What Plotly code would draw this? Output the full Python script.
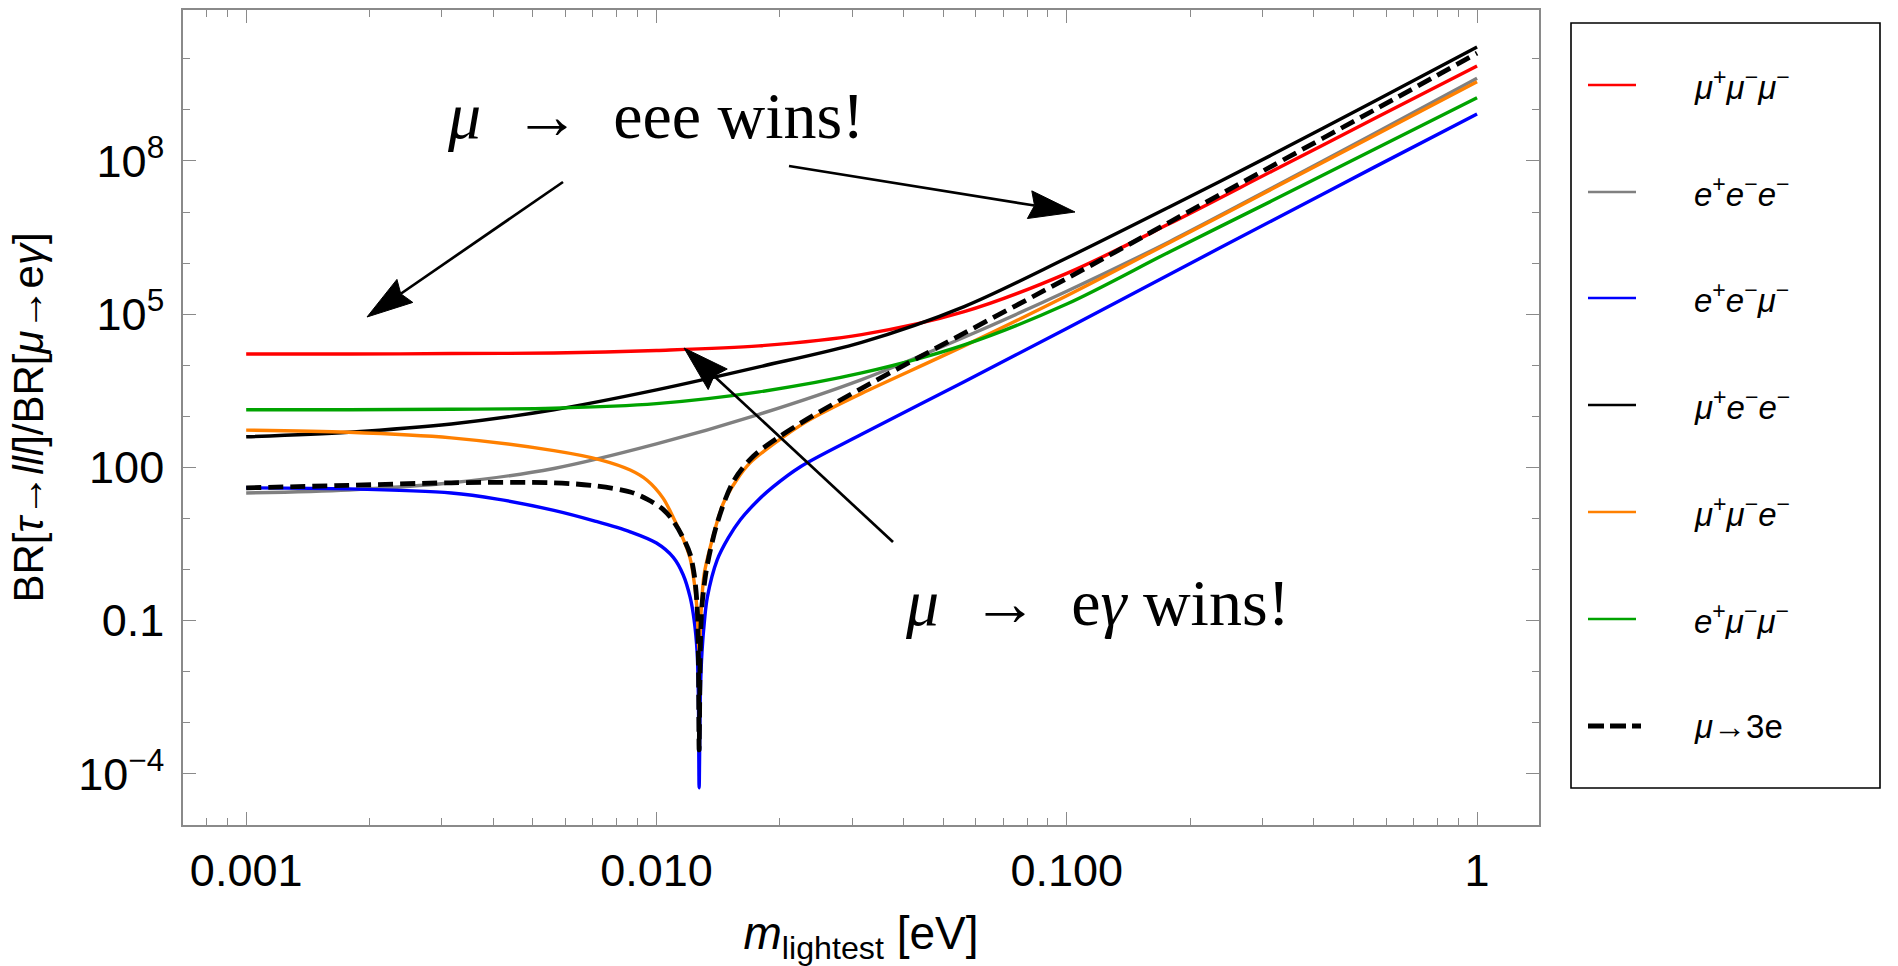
import numpy as np
import plotly.graph_objects as go

# ---------------- data ----------------
# x: log10(m_lightest / eV), y: log10(BR[tau->lll]/BR[mu->e gamma])
logm_grid = [-3.0, -2.75, -2.5, -2.25, -2.0, -1.75, -1.5, -1.25, -1.0, -0.75, -0.5, -0.25, 0.0]

logbr_mupmummum = [4.22, 4.22, 4.23, 4.24, 4.29, 4.38, 4.60, 5.05, 5.80, 6.77, 7.80, 8.83, 9.86]   # mu+ mu- mu-  (red)
logbr_epemem    = [1.50, 1.56, 1.70, 1.98, 2.46, 3.04, 3.72, 4.55, 5.45, 6.42, 7.47, 8.54, 9.62]   # e+ e- e-     (gray)
logbr_mupemem   = [2.60, 2.69, 2.85, 3.13, 3.52, 3.97, 4.45, 5.15, 6.10, 7.10, 8.12, 9.17, 10.23]  # mu+ e- e-    (black)
logbr_epmummum  = [3.13, 3.13, 3.14, 3.16, 3.25, 3.48, 3.85, 4.40, 5.20, 6.22, 7.22, 8.23, 9.24]   # e+ mu- mu-   (green)

# e+ e- mu-  (blue)
logm_epemmum = [-3.0, -2.75, -2.5, -2.388, -2.25, -2.15, -2.064, -2.0, -1.959, -1.935, -1.918, -1.908,
                -1.901, -1.898, -1.896, -1.893, -1.889, -1.883, -1.876, -1.852, -1.825, -1.796, -1.756,
                -1.716, -1.65, -1.5, -1.25, -1.0, -0.75, -0.5, -0.25, 0.0]
logbr_epemmum = [1.60, 1.58, 1.50, 1.38, 1.16, 0.95, 0.74, 0.52, 0.24, -0.10, -0.54, -1.00,
                 -1.60, -2.40, -4.27, -2.40, -1.60, -1.00, -0.54, 0.19, 0.62, 0.97, 1.33,
                 1.62, 2.01, 2.65, 3.68, 4.72, 5.78, 6.83, 7.88, 8.92]

# mu+ mu- e-  (orange)
logm_mupmumem = [-3.0, -2.75, -2.5, -2.25, -2.137, -2.064, -2.023, -1.984, -1.959, -1.935, -1.918, -1.908,
                 -1.901, -1.896, -1.891, -1.884, -1.869, -1.837, -1.805, -1.772, -1.699, -1.65, -1.6, -1.5,
                 -1.25, -1.0, -0.75, -0.5, -0.25, 0.0]
logbr_mupmumem = [2.73, 2.69, 2.58, 2.33, 2.15, 1.95, 1.75, 1.40, 1.02, 0.60, 0.22, -0.25,
                  -0.80, -1.60, -0.80, -0.10, 0.44, 1.30, 1.75, 2.09, 2.55, 2.82, 3.05, 3.45,
                  4.38, 5.36, 6.40, 7.45, 8.50, 9.55]

# mu -> 3e  (black dashed)
logm_mu3e = [-3.0, -2.75, -2.5, -2.25, -2.15, -2.064, -2.023, -1.984, -1.959, -1.935, -1.918, -1.908,
             -1.901, -1.898, -1.896, -1.893, -1.889, -1.882, -1.876, -1.852, -1.813, -1.764, -1.699,
             -1.65, -1.6, -1.5, -1.25, -1.0, -0.75, -0.5, -0.25, 0.0]
logbr_mu3e = [1.60, 1.65, 1.70, 1.70, 1.64, 1.52, 1.38, 1.18, 0.95, 0.62, 0.30, -0.10,
              -0.70, -1.60, -3.53, -1.50, -0.70, -0.20, 0.10, 0.91, 1.72, 2.22, 2.61,
              2.86, 3.10, 3.55, 4.63, 5.70, 6.80, 7.90, 9.00, 10.11]

legend_labels = [
    "<i>μ</i><sup>+</sup><i>μ</i><sup>−</sup><i>μ</i><sup>−</sup>",
    "<i>e</i><sup>+</sup><i>e</i><sup>−</sup><i>e</i><sup>−</sup>",
    "<i>e</i><sup>+</sup><i>e</i><sup>−</sup><i>μ</i><sup>−</sup>",
    "<i>μ</i><sup>+</sup><i>e</i><sup>−</sup><i>e</i><sup>−</sup>",
    "<i>μ</i><sup>+</sup><i>μ</i><sup>−</sup><i>e</i><sup>−</sup>",
    "<i>e</i><sup>+</sup><i>μ</i><sup>−</sup><i>μ</i><sup>−</sup>",
    "<i>μ</i>→3e",
]

x_tickvals = [0.001, 0.01, 0.1, 1]
x_ticktext = ["0.001", "0.010", "0.100", "1"]
x_minor = [0.0008, 0.0009] + [k * 10.0 ** e for e in (-3, -2, -1) for k in range(2, 10)]
y_tickvals = [1e-4, 0.1, 100, 1e5, 1e8]
y_ticktext = ["10<sup>−4</sup>", "0.1", "100", "10<sup>5</sup>", "10<sup>8</sup>"]
y_minor = [1e-3, 1e-2, 1, 10, 1e3, 1e4, 1e6, 1e7, 1e9, 1e10]

# ---------------- styling ----------------
RED, GRAY, BLUE, BLACK, ORANGE, GREEN = "#FF0000", "#808080", "#0000FF", "#000000", "#FF8000", "#00A300"
FRAME = "#8a8a8a"
SANS = "Liberation Sans, Arial, Helvetica, sans-serif"
SERIF = "Liberation Serif, Times New Roman, serif"

L, R, T, B = 183, 1539, 10, 825      # plot frame in page pixels
W, H = R - L, B - T


def px(x):
    return (x - L) / W


def py(y):
    return (B - y) / H


fig = go.Figure()

series = [
    (legend_labels[0], logm_grid, logbr_mupmummum, RED, "solid", 3.4),
    (legend_labels[1], logm_grid, logbr_epemem, GRAY, "solid", 3.4),
    (legend_labels[2], logm_epemmum, logbr_epemmum, BLUE, "solid", 3.4),
    (legend_labels[3], logm_grid, logbr_mupemem, BLACK, "solid", 3.4),
    (legend_labels[4], logm_mupmumem, logbr_mupmumem, ORANGE, "solid", 3.4),
    (legend_labels[5], logm_grid, logbr_epmummum, GREEN, "solid", 3.4),
    (legend_labels[6], logm_mu3e, logbr_mu3e, BLACK, "15px,7px", 4.8),
]
for name, lx, ly, col, dash, w in series:
    fig.add_trace(go.Scatter(
        x=10.0 ** np.array(lx), y=10.0 ** np.array(ly), mode="lines", name=name,
        line=dict(color=col, width=w, dash=dash, shape="spline", smoothing=0.9),
        showlegend=False,
    ))

axis_common = dict(
    type="log", showgrid=False, zeroline=False, showline=True, linecolor=FRAME, linewidth=1.6,
    mirror="ticks", ticks="inside", ticklen=13, tickwidth=1.3, tickcolor=FRAME,
    tickfont=dict(family=SANS, size=45, color="black"),
)
fig.update_xaxes(
    **axis_common, range=[-3.154, 0.151], tickmode="array", tickvals=x_tickvals, ticktext=x_ticktext,
    minor=dict(tickvals=x_minor, ticks="inside", ticklen=7, tickwidth=1.3, tickcolor=FRAME),
    ticklabelstandoff=5,
    title=dict(text="<i>m</i><sub>lightest</sub> [eV]", font=dict(family=SANS, size=46, color="black"), standoff=22),
)
fig.update_yaxes(
    **axis_common, range=[-5.0, 10.956], tickmode="array", tickvals=y_tickvals, ticktext=y_ticktext,
    minor=dict(tickvals=y_minor, ticks="inside", ticklen=7, tickwidth=1.3, tickcolor=FRAME),
    ticklabelstandoff=8,
    title=dict(text="BR[<i>τ</i>→<i>lll</i>]/BR[<i>μ</i>→e<i>γ</i>]", font=dict(family=SANS, size=42, color="black"), standoff=22),
)

shapes = []
annotations = []

# legend (drawn in the right margin)
shapes.append(dict(type="rect", xref="paper", yref="paper", x0=px(1571), x1=px(1880), y0=py(788), y1=py(23),
                   line=dict(color="black", width=1.6), fillcolor="rgba(0,0,0,0)", layer="above"))
legend_rows = [85, 192, 298, 405, 512, 619, 726]
for (name, lx, ly, col, dash, w), yrow in zip(series, legend_rows):
    is_dash = dash != "solid"
    shapes.append(dict(type="line", xref="paper", yref="paper", x0=px(1588), x1=px(1641 if is_dash else 1636),
                       y0=py(yrow), y1=py(yrow),
                       line=dict(color=col, width=5 if is_dash else 2.6, dash="16px,6px" if is_dash else "solid")))
    annotations.append(dict(xref="paper", yref="paper", x=px(1692), y=py(yrow), xanchor="left", yanchor="middle",
                            text=name, showarrow=False, font=dict(family=SANS, size=33, color="black")))


def arrow(tail, head, length=46, half=14, notch=5, width=2.7):
    tx, ty = tail
    hx, hy = head
    dx, dy = hx - tx, hy - ty
    n = (dx * dx + dy * dy) ** 0.5
    ux, uy = dx / n, dy / n
    vx, vy = -uy, ux
    bx, by = hx - ux * length, hy - uy * length
    nx_, ny_ = hx - ux * (length - notch), hy - uy * (length - notch)
    c1 = (bx + vx * half, by + vy * half)
    c2 = (bx - vx * half, by - vy * half)
    shapes.append(dict(type="line", xref="paper", yref="paper", x0=px(tx), y0=py(ty), x1=px(nx_), y1=py(ny_),
                       line=dict(color="black", width=width)))
    path = "M{},{} L{},{} L{},{} L{},{} Z".format(px(hx), py(hy), px(c1[0]), py(c1[1]),
                                                  px(nx_), py(ny_), px(c2[0]), py(c2[1]))
    shapes.append(dict(type="path", xref="paper", yref="paper", path=path, fillcolor="black",
                       line=dict(color="black", width=1)))


arrow((563, 182), (367, 317))
arrow((789, 166), (1075, 212))
arrow((893, 542), (684, 348))

annotations.append(dict(xref="paper", yref="paper", x=px(655), y=py(115), xanchor="center", yanchor="middle",
                        text="<i>μ</i>\u2002→\u2002eee wins!", showarrow=False,
                        font=dict(family=SERIF, size=66, color="black")))
annotations.append(dict(xref="paper", yref="paper", x=px(1097), y=py(602), xanchor="center", yanchor="middle",
                        text="<i>μ</i>\u2002→\u2002e<i>γ</i> wins!", showarrow=False,
                        font=dict(family=SERIF, size=66, color="black")))

fig.update_layout(
    width=1898, height=966, template="none",
    paper_bgcolor="white", plot_bgcolor="white",
    margin=dict(l=L, r=1898 - R, t=T, b=966 - B, autoexpand=False),
    showlegend=False, shapes=shapes, annotations=annotations,
)

fig.write_html("out.html")
